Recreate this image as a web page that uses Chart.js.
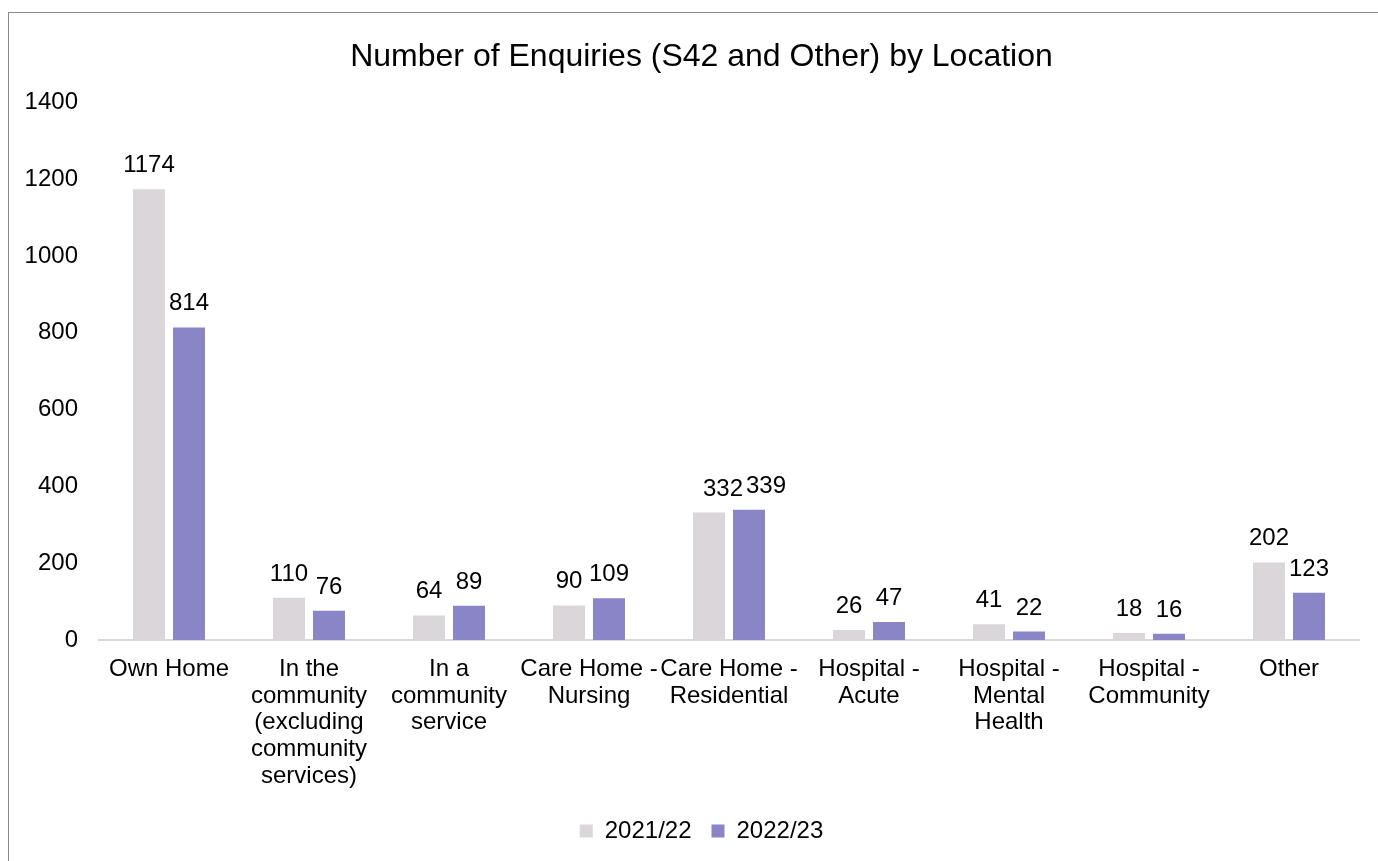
<!DOCTYPE html>
<html>
<head>
<meta charset="utf-8">
<script src="https://cdn.jsdelivr.net/npm/chart.js@4.4.0/dist/chart.umd.min.js"></script>
<style>
  html, body { margin: 0; padding: 0; background: #fff; overflow: hidden; }
  #wrap { position: absolute; left: 0; top: 0; width: 1378px; height: 861px; }
  #frame { position: absolute; left: 8px; top: 12px; width: 2000px; height: 2000px; border: 1px solid #8a8a8a; pointer-events: none; }
</style>
</head>
<body>
<div id="wrap"><canvas id="c"></canvas></div>
<div id="frame"></div>
<script>
const categories = [
  "Own Home",
  ["In the", "community", "(excluding", "community", "services)"],
  ["In a", "community", "service"],
  ["Care Home -", "Nursing"],
  ["Care Home -", "Residential"],
  ["Hospital -", "Acute"],
  ["Hospital -", "Mental", "Health"],
  ["Hospital -", "Community"],
  "Other"
];
const seriesNames = ["2021/22", "2022/23"];
const values2021 = [1174, 110, 64, 90, 332, 26, 41, 18, 202];
const values2022 = [814, 76, 89, 109, 339, 47, 22, 16, 123];
const yTicks = [0, 200, 400, 600, 800, 1000, 1200, 1400];

const FONT = "'Liberation Sans', Arial, sans-serif";

const dataLabels = {
  id: 'dataLabels',
  afterDatasetsDraw(chart, args, opts) {
    const ctx = chart.ctx;
    ctx.save();
    ctx.font = "24px " + FONT;
    ctx.fillStyle = '#000';
    ctx.textAlign = 'center';
    ctx.textBaseline = 'alphabetic';
    chart.data.datasets.forEach((ds, di) => {
      const meta = chart.getDatasetMeta(di);
      meta.data.forEach((bar, i) => {
        const shift = (opts.shift && opts.shift[i]) ? opts.shift[i][di] : 0;
        ctx.fillText(String(ds.data[i]), bar.x + shift, bar.y - 17);
      });
    });
    ctx.restore();
  }
};

new Chart(document.getElementById('c'), {
  type: 'bar',
  data: {
    labels: categories,
    datasets: [
      { label: seriesNames[0], data: values2021, backgroundColor: '#dad6da', borderWidth: 0 },
      { label: seriesNames[1], data: values2022, backgroundColor: '#8985c6', borderWidth: 0 }
    ]
  },
  plugins: [dataLabels],
  options: {
    responsive: true,
    maintainAspectRatio: false,
    animation: false,
    datasets: { bar: { categoryPercentage: 0.5714, barPercentage: 0.8 } },
    layout: { padding: { left: 44, right: 19, top: 0, bottom: 8 } },
    plugins: {
      dataLabels: { shift: { 4: [14, 17] } },
      tooltip: { enabled: false },
      title: {
        display: true,
        text: 'Number of Enquiries (S42 and Other) by Location',
        color: '#000',
        font: { family: FONT, size: 32, weight: 'normal' },
        padding: { top: 38, bottom: 26 }
      },
      legend: {
        position: 'bottom',
        labels: {
          color: '#000',
          boxWidth: 13,
          boxHeight: 13,
          padding: 20,
          font: { family: FONT, size: 24 }
        }
      }
    },
    scales: {
      x: {
        grid: { display: false },
        border: { display: true, color: '#d9d9d9', width: 2 },
        ticks: {
          color: '#000',
          font: { family: FONT, size: 24, lineHeight: 1.11 },
          padding: 8,
          maxRotation: 0,
          autoSkip: false
        },
        afterFit(scale) { scale.height = 159; }
      },
      y: {
        min: 0,
        max: 1400,
        grid: { display: false, drawTicks: false },
        border: { display: false },
        afterBuildTicks(scale) { scale.ticks = yTicks.map(v => ({ value: v })); },
        ticks: {
          color: '#000',
          font: { family: FONT, size: 24 },
          mirror: true,
          crossAlign: 'far',
          padding: -74.4,
          callback: (v) => String(v)
        },
        afterFit(scale) { scale.width = 55; }
      }
    }
  }
});
</script>
</body>
</html>
